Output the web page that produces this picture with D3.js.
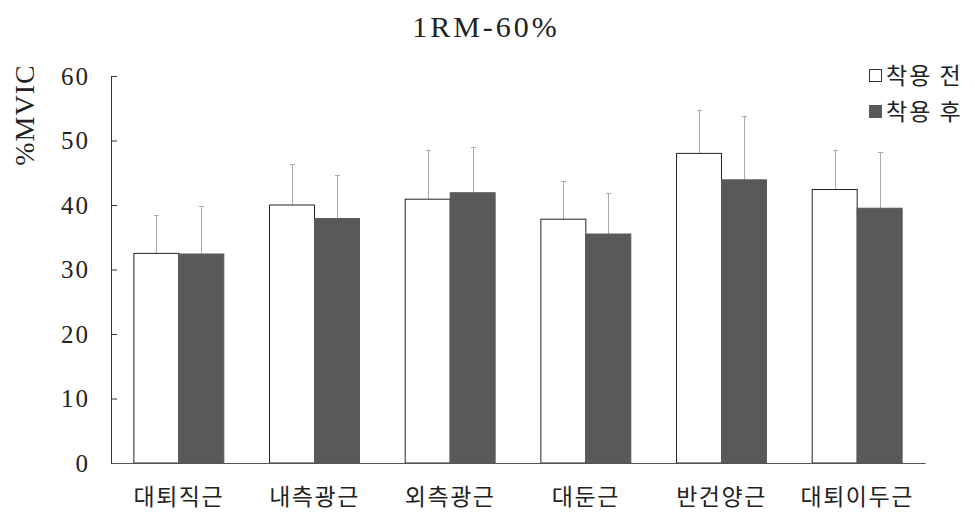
<!DOCTYPE html>
<html>
<head>
<meta charset="utf-8">
<script src="https://cdn.jsdelivr.net/npm/d3@7"></script>
<style>
  html, body { margin: 0; padding: 0; background: #fff; }
  svg { display: block; }
</style>
</head>
<body>
<svg id="chart" width="974" height="515"></svg>
<script>
// Muscle groups on the x axis
const categories = ["대퇴직근", "내측광근", "외측광근", "대둔근", "반건양근", "대퇴이두근"];
// Series names (before / after wearing)
const seriesNames = ["착용 전", "착용 후"];
// Mean %MVIC for each series
const beforeMean = [32.5, 40.0, 40.9, 37.8, 48.0, 42.4];
const afterMean  = [32.4, 37.9, 41.9, 35.5, 43.9, 39.5];
// Standard deviations (upper error bars)
const beforeSD = [5.9, 6.3, 7.6, 5.9, 6.8, 6.1];
const afterSD  = [7.5, 6.7, 7.1, 6.4, 9.9, 8.7];
// Y axis ticks
const yTicks = [0, 10, 20, 30, 40, 50, 60];

const svg = d3.select("#chart");
const margin = { left: 111, right: 49, top: 76, bottom: 52 };
const W = 974, H = 515;
const serif = "'Liberation Serif', 'DejaVu Serif', serif";
const korean = "'Noto Sans CJK KR', sans-serif";

const x = d3.scaleBand()
  .domain(categories)
  .range([margin.left, W - margin.right])
  .paddingInner(0.337)
  .paddingOuter(0.1685);

const xs = d3.scaleBand()
  .domain(seriesNames)
  .range([0, x.bandwidth()])
  .padding(0);

const y = d3.scaleLinear()
  .domain([0, 60])
  .range([H - margin.bottom, margin.top]);

const fills = ["#ffffff", "#595959"];
const strokes = ["#222", "#595959"];

const rows = categories.map((c, i) => ({
  cat: c,
  vals: [
    { s: seriesNames[0], m: beforeMean[i], sd: beforeSD[i], k: 0 },
    { s: seriesNames[1], m: afterMean[i], sd: afterSD[i], k: 1 }
  ]
}));

// Error bars (drawn behind the bars so only the upper part shows)
const eg = svg.append("g").attr("stroke", "#aaa").attr("stroke-width", 1);
rows.forEach(r => {
  r.vals.forEach(v => {
    const cx = Math.round(x(r.cat) + xs(v.s) + xs.bandwidth() / 2) + 0.5;
    const top = Math.round(y(v.m + v.sd)) + 0.5;
    eg.append("line").attr("x1", cx).attr("x2", cx)
      .attr("y1", y(v.m)).attr("y2", top);
    eg.append("line").attr("x1", cx - 2.5).attr("x2", cx + 2.5)
      .attr("y1", top).attr("y2", top);
  });
});

// Bars
const bg = svg.append("g");
rows.forEach(r => {
  r.vals.forEach(v => {
    bg.append("rect")
      .attr("x", x(r.cat) + xs(v.s))
      .attr("y", y(v.m))
      .attr("width", xs.bandwidth())
      .attr("height", y(0) - y(v.m))
      .attr("fill", fills[v.k])
      .attr("stroke", strokes[v.k])
      .attr("stroke-width", 1);
  });
});

// Y axis
const yAxis = d3.axisLeft(y).tickValues(yTicks).tickSize(-6).tickPadding(21);
const ya = svg.append("g")
  .attr("transform", `translate(${margin.left},0)`)
  .call(yAxis);
ya.select(".domain").attr("stroke", "#333");
ya.selectAll(".tick line").attr("stroke", "#333");
ya.selectAll(".tick text")
  .attr("fill", "#222")
  .style("font-family", serif)
  .style("font-size", "25px")
  .style("letter-spacing", "2px");

// X axis baseline and labels
const xa = svg.append("g")
  .attr("transform", `translate(0,${y(0)})`)
  .call(d3.axisBottom(x).tickSize(0).tickPadding(26));
xa.select(".domain").attr("stroke", "#555");
xa.selectAll(".tick text")
  .attr("fill", "#222")
  .style("font-family", korean)
  .style("font-size", "23px")
  .style("letter-spacing", "1.5px");

// Title
svg.append("text")
  .attr("x", 486).attr("y", 37)
  .attr("text-anchor", "middle")
  .style("font-family", serif)
  .style("font-size", "30px")
  .style("letter-spacing", "3px")
  .attr("fill", "#222")
  .text("1RM-60%");

// Y axis title
svg.append("text")
  .attr("transform", "translate(34,115) rotate(-90)")
  .attr("text-anchor", "middle")
  .style("font-family", serif)
  .style("font-size", "28px")
  .style("letter-spacing", "1px")
  .attr("fill", "#222")
  .text("%MVIC");

// Legend
const lg = svg.append("g");
seriesNames.forEach((s, i) => {
  const ly = 76 + i * 36;
  lg.append("rect")
    .attr("x", 869.5).attr("y", ly - 6.5)
    .attr("width", 12).attr("height", 12)
    .attr("fill", fills[i])
    .attr("stroke", i === 0 ? "#333" : "#595959");
  lg.append("text")
    .attr("x", 886).attr("y", ly)
    .attr("dy", "0.35em")
    .style("font-family", korean)
    .style("font-size", "23px")
    .style("letter-spacing", "2px")
    .attr("fill", "#222")
    .text(s);
});
</script>
</body>
</html>
